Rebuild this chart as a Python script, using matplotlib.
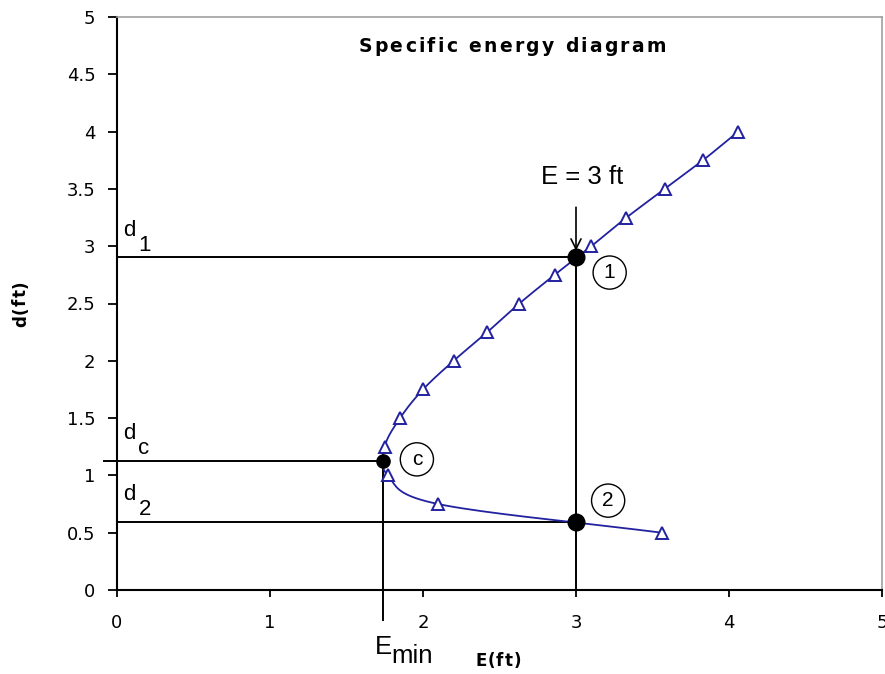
import numpy as np
import matplotlib
matplotlib.use("Agg")
import matplotlib.pyplot as plt
from matplotlib.font_manager import FontProperties
from matplotlib.textpath import text_to_path

# Specific energy curve: depth d (ft) against specific energy E (ft)
depth = [0.5, 0.75, 1.0, 1.25, 1.5, 1.75, 2.0, 2.25, 2.5, 2.75, 3.0, 3.25, 3.5, 3.75, 4.0]
energy = [3.56, 2.10, 1.77, 1.75, 1.85, 2.00, 2.20, 2.42, 2.63, 2.86, 3.10, 3.33, 3.58, 3.83, 4.06]

# Critical state and the two alternate depths for E = 3 ft
e_min = 1.74
d_c = 1.13
e_given = 3.0
d_1 = 2.91
d_2 = 0.59

x_ticks = [0, 1, 2, 3, 4, 5]
y_ticks = [0, 0.5, 1, 1.5, 2, 2.5, 3, 3.5, 4, 4.5, 5]

LINE_BLUE = "#2222a0"
TICK_FONT = "DejaVu Sans"
NOTE_FONT = "Liberation Sans"
DPI = 100


def smooth(xs, ys, n=20):
    """Catmull-Rom curve through the points, like a spreadsheet smoothed line."""
    p = np.column_stack([xs, ys]).astype(float)
    p = np.vstack([p[0] - (p[1] - p[0]), p, p[-1] + (p[-1] - p[-2])])
    out = []
    t = np.linspace(0, 1, n, endpoint=False)[:, None]
    for i in range(1, len(p) - 2):
        p0, p1, p2, p3 = p[i - 1], p[i], p[i + 1], p[i + 2]
        seg = 0.5 * ((2 * p1) + (-p0 + p2) * t + (2 * p0 - 5 * p1 + 4 * p2 - p3) * t ** 2
                     + (-p0 + 3 * p1 - 3 * p2 + p3) * t ** 3)
        out.append(seg)
    out.append(p[-2][None, :])
    out = np.vstack(out)
    return out[:, 0], out[:, 1]


def tracked_text(fig, x_center_px, y_center_px, s, size, tracking_px, rotation=0, **kw):
    """Draw a string with extra letter spacing, centred at a pixel position."""
    prop = FontProperties(family=TICK_FONT, weight="bold", size=size)
    widths = []
    for ch in s:
        w, _, _ = text_to_path.get_text_width_height_descent(ch, prop, ismath=False)
        widths.append(w * DPI / 72.0)
    total = sum(widths) + tracking_px * (len(s) - 1)
    W, H = fig.get_size_inches() * DPI
    pos = -total / 2.0
    for ch, w in zip(s, widths):
        if rotation == 0:
            fx, fy = (x_center_px + pos) / W, 1 - y_center_px / H
        else:
            fx, fy = x_center_px / W, 1 - (y_center_px - pos) / H
        fig.text(fx, fy, ch, fontproperties=prop, ha="left" if rotation == 0 else "center",
                 va="center" if rotation == 0 else "bottom", rotation=rotation, **kw)
        pos += w + tracking_px


fig = plt.figure(figsize=(8.85, 6.74), dpi=DPI)
ax = fig.add_axes([117 / 885, 84 / 674, 765 / 885, 573 / 674])

ax.set_xlim(0, 5)
ax.set_ylim(0, 5)
ax.set_xticks(x_ticks)
ax.set_yticks(y_ticks)
ax.set_xticklabels([f"{v:g}" for v in x_ticks], fontfamily=TICK_FONT, fontsize=13)
ax.set_yticklabels([f"{v:g}" for v in y_ticks], fontfamily=TICK_FONT, fontsize=13)
ax.tick_params(axis="y", direction="out", length=6.5, width=1.3, pad=9, colors="black")
ax.tick_params(axis="x", direction="out", length=5, width=1.3, pad=12, colors="black")

for side in ("left", "bottom"):
    ax.spines[side].set_color("black")
    ax.spines[side].set_linewidth(1.5)
for side in ("top", "right"):
    ax.spines[side].set_color("#a0a0a0")
    ax.spines[side].set_linewidth(1.2)

# Reference lines for the depths and energies
ax.plot([-0.085, e_min], [d_c, d_c], color="black", lw=1.4, clip_on=False, zorder=3)
ax.plot([0, e_given], [d_1, d_1], color="black", lw=1.4, zorder=3)
ax.plot([0, e_given], [d_2, d_2], color="black", lw=1.4, zorder=3)
ax.plot([e_min, e_min], [d_c, -0.26], color="black", lw=1.4, clip_on=False, zorder=3)
ax.plot([e_given, e_given], [0, d_1], color="black", lw=1.4, zorder=3)

# Arrow marking E = 3 ft
ax.annotate("", xy=(e_given, d_1 + 0.05), xytext=(e_given, 3.34),
            arrowprops=dict(arrowstyle="->", color="black", lw=1.2,
                            mutation_scale=18, shrinkA=0, shrinkB=0), zorder=4)
ax.text(e_given + 0.04, 3.6, "E = 3 ft", fontfamily=NOTE_FONT, fontsize=18.5,
        ha="center", va="center")

# Specific energy curve
sx, sy = smooth(energy, depth)
ax.plot(sx, sy, color=LINE_BLUE, lw=1.3, zorder=5)
ax.plot(energy, depth, linestyle="none", marker="^", markersize=9,
        markerfacecolor="white", markeredgecolor=LINE_BLUE, markeredgewidth=1.4, zorder=6)

# Critical point and alternate depths
ax.plot([e_min], [d_c], "o", color="black", markersize=9.5, zorder=7)
ax.plot([e_given, e_given], [d_1, d_2], "o", color="black", markersize=12, linestyle="none", zorder=7)

circ = dict(boxstyle="circle,pad=0.34", fc="white", ec="black", lw=1.0)
ax.text(3.22, 2.77, "1", fontfamily=NOTE_FONT, fontsize=15, ha="center", va="center", bbox=circ, zorder=8)
ax.text(1.96, 1.14, "c", fontfamily=NOTE_FONT, fontsize=15, ha="center", va="center", bbox=circ, zorder=8)
ax.text(3.21, 0.78, "2", fontfamily=NOTE_FONT, fontsize=15, ha="center", va="center", bbox=circ, zorder=8)


# Depth labels with lowered subscripts
def sub_label(x, y, main, sub, size, drop, dx):
    ax.text(x, y, main, fontfamily=NOTE_FONT, fontsize=size, ha="left", va="baseline", clip_on=False)
    ax.text(x + dx, y - drop, sub, fontfamily=NOTE_FONT, fontsize=size, ha="left", va="baseline",
            clip_on=False)


sub_label(0.04, 3.09, "d", "1", 16, 0.13, 0.10)
sub_label(0.04, 1.315, "d", "c", 16, 0.13, 0.10)
sub_label(0.04, 0.784, "d", "2", 16, 0.13, 0.10)

# E_min below the axis
ax.text(1.685, -0.555, "E", fontfamily=NOTE_FONT, fontsize=18.5, ha="left", va="baseline", clip_on=False)
ax.text(1.795, -0.635, "min", fontfamily=NOTE_FONT, fontsize=18.5, ha="left", va="baseline", clip_on=False)

# Title and axis titles, letter-spaced
tracked_text(fig, 512, 47, "Specific energy diagram", 13.5, 2.3)
tracked_text(fig, 498, 661, "E(ft)", 12, 1.0)
tracked_text(fig, 21, 304, "d(ft)", 12, 1.0, rotation=90)

fig.savefig("out.png", dpi=DPI)
